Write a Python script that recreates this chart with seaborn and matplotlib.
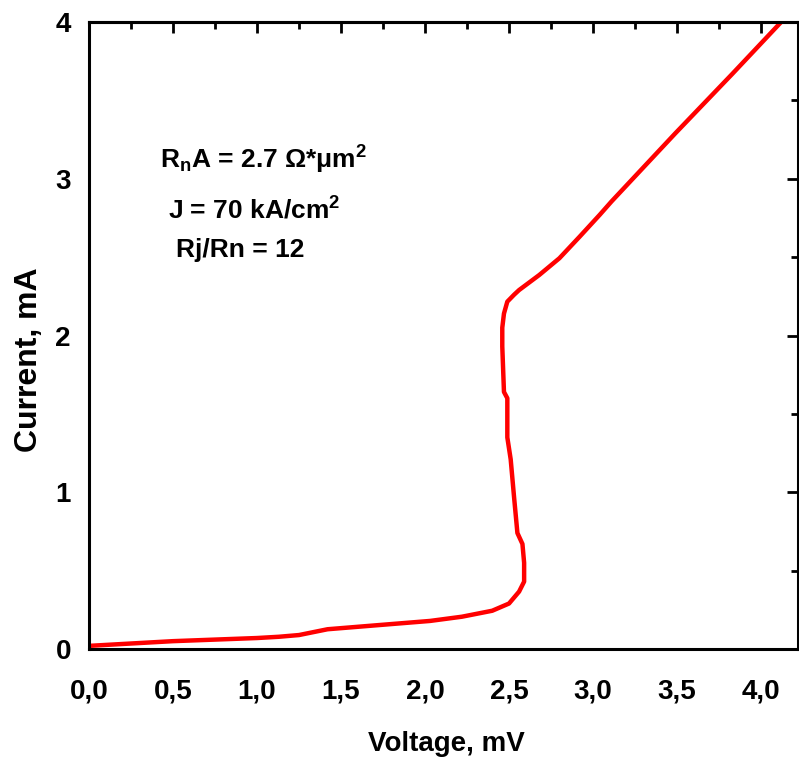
import matplotlib
matplotlib.use("Agg")
import matplotlib.pyplot as plt
import seaborn as sns
import pandas as pd
from matplotlib.ticker import MultipleLocator

# I-V curve (voltage in mV, current in mA)
voltage = [0.00, 0.50, 1.00, 1.13, 1.25, 1.42, 1.73, 2.03, 2.22, 2.40, 2.50, 2.56,
           2.59, 2.59, 2.58, 2.55, 2.53, 2.51, 2.49, 2.49, 2.47, 2.46, 2.46, 2.47,
           2.49, 2.53, 2.56, 2.68, 2.80, 2.92, 3.04, 3.11, 3.49, 3.83, 4.12]
current = [0.02, 0.05, 0.07, 0.078, 0.089, 0.126, 0.153, 0.179, 0.206, 0.244, 0.29, 0.366,
           0.43, 0.55, 0.67, 0.74, 0.97, 1.21, 1.35, 1.60, 1.64, 1.93, 2.05, 2.14,
           2.216, 2.26, 2.29, 2.386, 2.493, 2.63, 2.77, 2.855, 3.29, 3.67, 4.00]

x_ticks = [0.0, 0.5, 1.0, 1.5, 2.0, 2.5, 3.0, 3.5, 4.0]
x_tick_labels = ["0,0", "0,5", "1,0", "1,5", "2,0", "2,5", "3,0", "3,5", "4,0"]
y_ticks = [0, 1, 2, 3, 4]
y_tick_labels = ["0", "1", "2", "3", "4"]

notes = [r"R$_\mathregular{n}$A = 2.7 Ω*μm$^\mathregular{2}$",
         r"J = 70 kA/cm$^\mathregular{2}$",
         "Rj/Rn = 12"]

df = pd.DataFrame({"Voltage": voltage, "Current": current})

sns.set_style("white")
plt.rcParams["font.family"] = ["Liberation Sans", "DejaVu Sans"]
plt.rcParams["font.weight"] = "bold"
plt.rcParams["mathtext.default"] = "regular"
plt.rcParams["text.color"] = "black"
plt.rcParams["axes.labelcolor"] = "black"
plt.rcParams["xtick.color"] = "black"
plt.rcParams["ytick.color"] = "black"

fig = plt.figure(figsize=(7.99, 7.62), dpi=100)
ax = fig.add_axes([0.1114, 0.1483, 0.8873, 0.8228])

sns.lineplot(data=df, x="Voltage", y="Current", sort=False, estimator=None,
             color="#ff0000", linewidth=3.2, ax=ax)

ax.set_xlim(0, 4.22)
ax.set_ylim(0, 4)

ax.set_xticks(x_ticks)
ax.set_xticklabels(x_tick_labels)
ax.set_yticks(y_ticks)
ax.set_yticklabels(y_tick_labels)
ax.xaxis.set_minor_locator(MultipleLocator(0.25))
ax.yaxis.set_minor_locator(MultipleLocator(0.5))
ax.tick_params(which="major", direction="out", length=8, width=2, labelsize=20)
ax.tick_params(axis="x", which="major", pad=13)
ax.tick_params(axis="y", which="major", pad=5)
ax.tick_params(which="minor", direction="out", length=5, width=2)
for lab in ax.get_xticklabels() + ax.get_yticklabels():
    lab.set_fontweight("bold")

for s in ax.spines.values():
    s.set_linewidth(2.2)
    s.set_color("black")

# mirrored ticks pointing inward on top and right
top = ax.secondary_xaxis("top")
top.set_xticks(x_ticks)
top.xaxis.set_minor_locator(MultipleLocator(0.25))
top.tick_params(which="major", direction="in", length=8, width=2, labeltop=False)
top.tick_params(which="minor", direction="in", length=5, width=2)
top.spines["top"].set_linewidth(2.2)

right = ax.secondary_yaxis("right")
right.set_yticks(y_ticks)
right.yaxis.set_minor_locator(MultipleLocator(0.5))
right.tick_params(which="major", direction="in", length=8, width=2, labelright=False)
right.tick_params(which="minor", direction="in", length=5, width=2)

ax.set_xlabel("Voltage, mV", fontsize=20, fontweight="bold")
ax.set_ylabel("Current, mA", fontsize=23, fontweight="bold")
ax.xaxis.set_label_coords(0.5035, -0.13)
ax.yaxis.set_label_coords(-0.064, 0.462)

ax.text(0.42, 3.12, notes[0], fontsize=19, fontweight="bold", va="center")
ax.text(0.47, 2.80, notes[1], fontsize=19, fontweight="bold", va="center")
ax.text(0.52, 2.545, notes[2], fontsize=19, fontweight="bold", va="center")

fig.savefig("out.png", dpi=100)
